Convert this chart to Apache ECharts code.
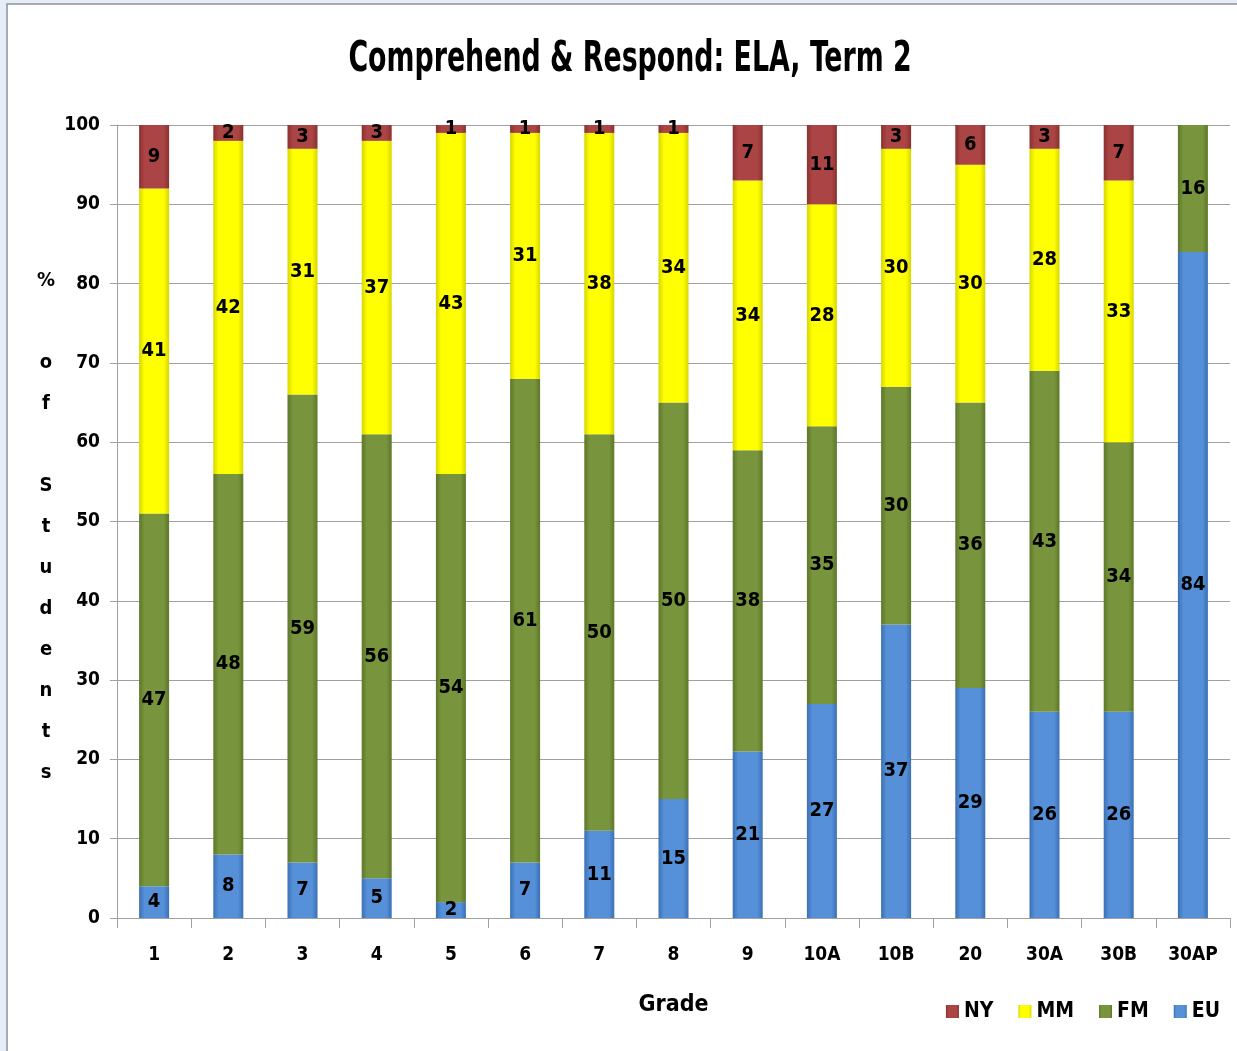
<!DOCTYPE html>
<html>
<head>
<meta charset="utf-8">
<script src="https://cdn.jsdelivr.net/npm/echarts@6/dist/echarts.min.js"></script>
<style>
  html, body { margin: 0; padding: 0; }
  #main { width: 1237px; height: 1051px; }
</style>
</head>
<body>
<div id="main"></div>
<script>
var grades = ['1', '2', '3', '4', '5', '6', '7', '8', '9', '10A', '10B', '20', '30A', '30B', '30AP'];
var eu = [4, 8, 7, 5, 2, 7, 11, 15, 21, 27, 37, 29, 26, 26, 84];
var fm = [47, 48, 59, 56, 54, 61, 50, 50, 38, 35, 30, 36, 43, 34, 16];
var mm = [41, 42, 31, 37, 43, 31, 38, 34, 34, 28, 30, 30, 28, 33, 0];
var ny = [9, 2, 3, 3, 1, 1, 1, 1, 7, 11, 3, 6, 3, 7, 0];

var FONT = '"DejaVu Sans Condensed", "Liberation Sans", sans-serif';

// bars look a bit bevelled, so darker edges and flat middle
function barColor(main, edge) {
  return new echarts.graphic.LinearGradient(0, 0, 1, 0, [
    { offset: 0, color: edge },
    { offset: 0.18, color: main },
    { offset: 0.82, color: main },
    { offset: 1, color: edge }
  ]);
}

function makeSeries(name, data, main, edge) {
  return {
    name: name,
    type: 'bar',
    stack: 'total',
    data: data,
    barWidth: 30,
    itemStyle: { color: barColor(main, edge) },
    label: {
      show: true,
      position: 'inside',
      color: '#000',
      fontFamily: FONT,
      fontWeight: 'bold',
      fontSize: 20,
      formatter: function (p) { return p.value ? p.value : ''; }
    }
  };
}

var myChart = echarts.init(document.getElementById('main'));

myChart.setOption({
  backgroundColor: '#e6edf6',
  animation: false,
  graphic: [
    {
      type: 'rect',
      z: -10,
      shape: { x: 7, y: 4, width: 1240, height: 1060 },
      style: { fill: '#fff', stroke: '#8c929c', lineWidth: 1.5 }
    },
    {
      // title squeezed sideways, the original font is a narrow one
      type: 'text',
      x: 630,
      y: 60,
      scaleX: 0.71,
      style: {
        text: 'Comprehend & Respond: ELA, Term 2',
        font: 'bold 42px ' + FONT,
        align: 'center',
        verticalAlign: 'middle',
        fill: '#000'
      }
    },
    {
      type: 'text',
      x: 46,
      y: 260,
      style: {
        text: '%\n\no\nf\n\nS\nt\nu\nd\ne\nn\nt\ns',
        font: 'bold 20px ' + FONT,
        lineHeight: 41,
        align: 'center',
        verticalAlign: 'top',
        fill: '#000'
      }
    }
  ],
  legend: {
    data: ['NY', 'MM', 'FM', 'EU'],
    right: 12,
    top: 996,
    itemWidth: 13,
    itemHeight: 13,
    itemGap: 25,
    icon: 'rect',
    textStyle: { fontFamily: FONT, fontWeight: 'bold', fontSize: 21, color: '#000' }
  },
  grid: { left: 117, right: 7, top: 125, bottom: 133 },
  xAxis: {
    type: 'category',
    data: grades,
    name: 'Grade',
    nameLocation: 'middle',
    nameGap: 76,
    nameTextStyle: { fontFamily: FONT, fontWeight: 'bold', fontSize: 23, color: '#000' },
    axisLine: { lineStyle: { color: '#a0a0a0' } },
    axisTick: { show: true, length: 10, lineStyle: { color: '#a0a0a0' } },
    axisLabel: { margin: 28, fontFamily: FONT, fontWeight: 'bold', fontSize: 19, color: '#000' }
  },
  yAxis: {
    type: 'value',
    min: 0,
    max: 100,
    interval: 10,
    axisLine: { show: true, lineStyle: { color: '#a0a0a0' } },
    axisTick: { show: true, length: 7, lineStyle: { color: '#a0a0a0' } },
    splitLine: { lineStyle: { color: '#a0a0a0' } },
    axisLabel: { margin: 17, fontFamily: FONT, fontWeight: 'bold', fontSize: 19, color: '#000' }
  },
  series: [
    makeSeries('EU', eu, '#5590d8', '#3b6fb4'),
    makeSeries('FM', fm, '#78943c', '#5c7829'),
    makeSeries('MM', mm, '#ffff00', '#d6d600'),
    makeSeries('NY', ny, '#ab4444', '#8a3030')
  ]
});
</script>
</body>
</html>
